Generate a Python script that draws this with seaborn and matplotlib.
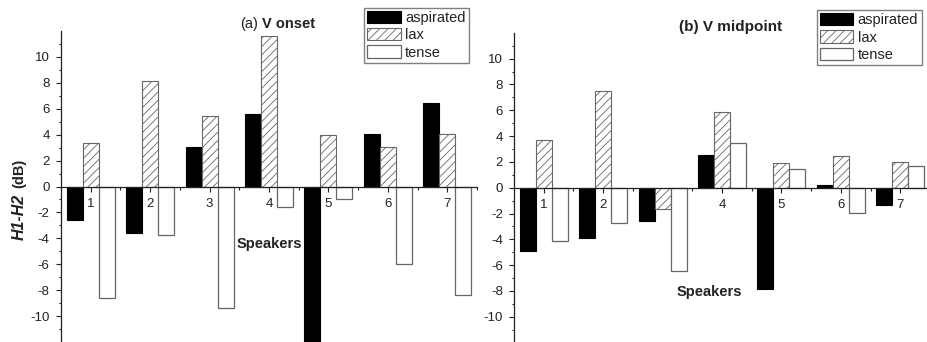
import numpy as np
import pandas as pd
import matplotlib
matplotlib.use("Agg")
import matplotlib.pyplot as plt
import seaborn as sns
from matplotlib.patches import Patch
from matplotlib.ticker import FixedLocator

# ---------------- data ----------------
speakers = ["1", "2", "3", "4", "5", "6", "7"]
groups = ["aspirated", "lax", "tense"]

onset_aspirated = [-2.55, -3.56, 3.04, 5.59, -12.0, 4.05, 6.44]
onset_lax = [3.35, 8.17, 5.41, 11.62, 3.94, 3.07, 4.02]
onset_tense = [-8.60, -3.74, -9.38, -1.55, -0.93, -5.95, -8.35]

mid_aspirated = [-4.91, -3.88, -2.56, 2.56, -7.86, 0.21, -1.37]
mid_lax = [3.72, 7.49, -1.63, 5.84, 1.89, 2.48, 1.96]
mid_tense = [-4.11, -2.76, -6.43, 3.44, 1.42, -1.99, 1.65]

x_label = "Speakers"
y_ticks = [-10, -8, -6, -4, -2, 0, 2, 4, 6, 8, 10]


def long_frame(asp, lax, tense):
    rows = []
    for g, vals in zip(groups, [asp, lax, tense]):
        for s, v in zip(speakers, vals):
            rows.append({"speaker": s, "group": g, "value": v})
    return pd.DataFrame(rows)


df_onset = long_frame(onset_aspirated, onset_lax, onset_tense)
df_mid = long_frame(mid_aspirated, mid_lax, mid_tense)

# ---------------- style ----------------
sns.set_theme(style="ticks")
plt.rcParams["font.family"] = ["Liberation Sans", "DejaVu Sans"]
plt.rcParams["hatch.linewidth"] = 0.6
plt.rcParams["axes.linewidth"] = 0.9
plt.rcParams["axes.unicode_minus"] = False

styles = {
    "aspirated": dict(facecolor="black", edgecolor="black", hatch=None, lw=0.8),
    "lax": dict(facecolor="white", edgecolor="#666666", hatch="////", lw=0.8),
    "tense": dict(facecolor="white", edgecolor="#666666", hatch=None, lw=0.9),
}

W, H = 928, 342
fig = plt.figure(figsize=(W / 100, H / 100), dpi=100)

ax_specs = [
    (df_onset, [61 / W, 0.0, 416 / W, 311 / H]),
    (df_mid, [514 / W, -0.5 / H, 416 / W, 309.6 / H]),
]

axes = []
for df, rect in ax_specs:
    ax = fig.add_axes(rect)
    sns.barplot(data=df, x="speaker", y="value", hue="group",
                order=speakers, hue_order=groups, width=0.81,
                errorbar=None, legend=False, ax=ax,
                palette={"aspirated": "black", "lax": "white", "tense": "white"})
    for container, g in zip(ax.containers, groups):
        st = styles[g]
        for bar in container:
            bar.set_facecolor(st["facecolor"])
            bar.set_edgecolor(st["edgecolor"])
            bar.set_linewidth(st["lw"])
            if st["hatch"]:
                bar.set_hatch(st["hatch"])
                if hasattr(bar, "set_hatchcolor"):
                    bar.set_hatchcolor("#8a8a8a")
    ax.set_xlim(-0.5, 6.5)
    ax.set_ylim(-12, 12)
    ax.set_xlabel("")
    ax.set_ylabel("")
    ax.spines["top"].set_visible(False)
    ax.spines["right"].set_visible(False)
    ax.spines["bottom"].set_position(("data", 0))
    ax.spines["bottom"].set_color("#222222")
    ax.spines["left"].set_color("#222222")
    ax.yaxis.set_major_locator(FixedLocator(y_ticks))
    ax.yaxis.set_minor_locator(FixedLocator(list(range(-11, 12, 2))))
    ax.xaxis.set_minor_locator(FixedLocator([i - 0.5 for i in range(8)]))
    ax.tick_params(axis="both", which="major", direction="out", length=3.6,
                   width=0.8, labelsize=9.5, colors="#222222", pad=4.5)
    ax.tick_params(axis="both", which="minor", direction="out", length=1.8,
                   width=0.8, colors="#222222")
    ax.tick_params(axis="x", which="major", pad=4.5)
    ax.set_facecolor("none")
    axes.append(ax)

# ---------------- legends ----------------
handles = [Patch(facecolor=styles[g]["facecolor"], edgecolor=styles[g]["edgecolor"],
                 hatch=styles[g]["hatch"], linewidth=styles[g]["lw"], label=g)
           for g in groups]
for (lx, ly) in [(364, 7.7), (816.7, 10)]:
    leg = fig.legend(handles=handles, loc="upper left",
                     bbox_to_anchor=(lx / W, 1 - ly / H), bbox_transform=fig.transFigure,
                     borderaxespad=0, fontsize=10.5, frameon=True, fancybox=False,
                     framealpha=1, edgecolor="#808080", handlelength=2.3,
                     handleheight=0.9, handletextpad=0.3, labelspacing=0.22,
                     borderpad=0.22)
    leg.get_frame().set_linewidth(1.0)
    for t in leg.get_texts():
        t.set_color("#222222")

# ---------------- titles / labels ----------------
def fx(px):
    return px / W


def fy(py):
    return 1 - py / H


fig.text(fx(258), fy(28), "(a)", fontsize=10.5, ha="right", va="baseline", color="#222222")
fig.text(fx(262), fy(28), "V onset", fontsize=10.5, fontweight="bold", ha="left",
         va="baseline", color="#222222")
fig.text(fx(731), fy(30.7), "(b) V midpoint", fontsize=11, fontweight="bold",
         ha="center", va="baseline", color="#222222")

fig.text(fx(269.5), fy(244.3), x_label, fontsize=10.5, fontweight="bold",
         ha="center", va="center", color="#222222")
fig.text(fx(709), fy(291.7), x_label, fontsize=10.5, fontweight="bold",
         ha="center", va="center", color="#222222")

fig.text(fx(19), fy(240), "H1-H2", fontsize=11.5, fontweight="bold", fontstyle="italic",
         rotation=90, ha="center", va="bottom", color="#222222")
fig.text(fx(19), fy(159), "(dB)", fontsize=10.5, fontweight="bold",
         rotation=90, ha="center", va="top", color="#222222")

fig.savefig("out.png", dpi=100)
